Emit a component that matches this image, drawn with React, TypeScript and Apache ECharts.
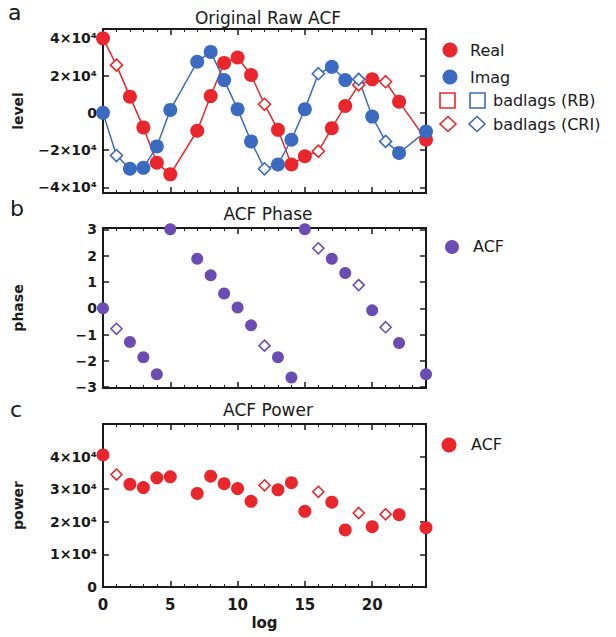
import React, { useEffect, useRef } from "react";
import * as echarts from "echarts";

const lags = [0, 1, 2, 3, 4, 5, 6, 7, 8, 9, 10, 11, 12, 13, 14, 15, 16, 17, 18, 19, 20, 21, 22, 23, 24];
const realLevel = [40000, 25600, 8700, -7800, -26800, -33000, null, -9600, 9000, 26800, 29700, 20300, 4600, -9100, -27700, -23300, -20600, -8200, 3700, 15000, 18000, 16700, 6000, null, -14400];
const imagLevel = [0, -22900, -30000, -29500, -18000, 1600, null, 27400, 32700, 17600, 2000, -15300, -30000, -27700, -14400, 2000, 21000, 24700, 17600, 18000, -2000, -15300, -21500, null, -10000];
const phaseVals = [0, -0.78, -1.28, -1.86, -2.51, 3.0, null, 1.88, 1.25, 0.56, 0.03, -0.65, -1.42, -1.86, -2.63, 3.0, 2.28, 1.88, 1.34, 0.88, -0.08, -0.72, -1.32, null, -2.51];
const powerVals = [40500, 34500, 31500, 30500, 33500, 33800, null, 28700, 34000, 31700, 30200, 26300, 31200, 29800, 32000, 23200, 29200, 26000, 17500, 22700, 18500, 22300, 22200, null, 18200];
const badCriLags = [1, 12, 16, 19, 21];
const levelTicks = [-40000, -20000, 0, 20000, 40000];
const phaseTicks = [-3, -2, -1, 0, 1, 2, 3];

const RED = "#e8262b";
const BLUE = "#3a6bc1";
const PURPLE = "#6a4cb2";
const INK = "#1a1a1a";
const FONT = "DejaVu Sans";

function buildData(vals: (number | null)[], color: string, diamondSize: number) {
  const out: any[] = [];
  lags.forEach((lag, i) => {
    const v = vals[i];
    if (v === null || v === undefined) return;
    if (badCriLags.includes(lag)) {
      out.push({
        value: [lag, v],
        symbol: "diamond",
        symbolSize: diamondSize,
        itemStyle: { color: "#ffffff", borderColor: color, borderWidth: 1.6, opacity: 1 },
      });
    } else {
      out.push({ value: [lag, v] });
    }
  });
  return out;
}

const sci = (v: number) => {
  if (v === 0) return "0";
  const s = v < 0 ? "\u2212" : "";
  return s + Math.abs(v) / 10000 + "\u00d710\u2074";
};

function xAxis(gridIndex: number, position: string, showLabels: boolean, name?: string) {
  return {
    type: "value",
    gridIndex,
    position,
    min: 0,
    max: 24,
    interval: 5,
    name: name || "",
    nameLocation: "middle",
    nameGap: 28,
    nameTextStyle: { fontFamily: FONT, fontSize: 15, color: INK, fontWeight: "bold" },
    axisLine: { show: true, onZero: false, lineStyle: { color: INK, width: 2 } },
    axisTick: { show: true, inside: true, length: 6, lineStyle: { color: INK, width: 1.5 } },
    minorTick: { show: true, splitNumber: 5, length: 3, lineStyle: { color: INK, width: 1 } },
    splitLine: { show: false },
    minorSplitLine: { show: false },
    axisLabel: {
      show: showLabels,
      showMaxLabel: false,
      margin: 10,
      fontFamily: FONT,
      fontSize: 15,
      fontWeight: "bold",
      color: INK,
    },
  };
}

function yAxis(
  gridIndex: number,
  position: string,
  showLabels: boolean,
  min: number,
  max: number,
  ticks: number[],
  formatter: (v: number) => string,
  name?: string
) {
  return {
    type: "value",
    gridIndex,
    position,
    min,
    max,
    name: name || "",
    nameLocation: "middle",
    nameRotate: 90,
    nameGap: 78,
    nameTextStyle: { fontFamily: FONT, fontSize: 14, color: INK, fontWeight: "bold" },
    axisLine: { show: true, onZero: false, lineStyle: { color: INK, width: 2 } },
    axisTick: { show: true, inside: true, length: 6, customValues: ticks, lineStyle: { color: INK, width: 1.5 } },
    splitLine: { show: false },
    axisLabel: {
      show: showLabels,
      customValues: ticks,
      formatter,
      margin: 6,
      fontFamily: FONT,
      fontSize: 14,
      fontWeight: "bold",
      color: INK,
    },
  };
}

function legendText(x: number, y: number, text: string) {
  return {
    type: "text",
    x,
    y,
    style: { text, fontFamily: FONT, fontSize: 16, fill: INK, verticalAlign: "middle", align: "left" },
  };
}

function diamond(cx: number, cy: number, color: string) {
  return {
    type: "polygon",
    shape: { points: [[cx, cy - 7.5], [cx + 8, cy], [cx, cy + 7.5], [cx - 8, cy]] },
    style: { fill: "none", stroke: color, lineWidth: 1.6 },
  };
}

export default function App() {
  const ref = useRef<HTMLDivElement>(null);
  useEffect(() => {
    if (!ref.current) return;
    const chart = echarts.init(ref.current, null, { renderer: "svg" });
    const titleStyle = { fontFamily: FONT, fontSize: 17, color: INK, fontWeight: "normal" };
    const option: any = {
      animation: false,
      backgroundColor: "#ffffff",
      title: [
        { text: "Original Raw ACF", left: 263, top: 4, textAlign: "center", textStyle: titleStyle },
        { text: "ACF Phase", left: 263, top: 200, textAlign: "center", textStyle: titleStyle },
        { text: "ACF Power", left: 263, top: 396, textAlign: "center", textStyle: titleStyle },
      ],
      grid: [
        { left: 103, top: 29, width: 323, height: 164 },
        { left: 103, top: 228, width: 323, height: 160 },
        { left: 103, top: 424, width: 323, height: 163 },
      ],
      xAxis: [
        xAxis(0, "bottom", false),
        xAxis(0, "top", false),
        xAxis(1, "bottom", false),
        xAxis(1, "top", false),
        xAxis(2, "bottom", true, "log"),
        xAxis(2, "top", false),
      ],
      yAxis: [
        yAxis(0, "left", true, -43000, 45000, levelTicks, sci, "level"),
        yAxis(0, "right", false, -43000, 45000, levelTicks, sci),
        yAxis(1, "left", true, -3.03, 3.05, phaseTicks, (v: number) => (v < 0 ? "\u2212" + Math.abs(v) : String(v)), "phase"),
        yAxis(1, "right", false, -3.03, 3.05, phaseTicks, (v: number) => String(v)),
        {
          ...yAxis(2, "left", true, 0, 50000, [], sci, "power"),
          interval: 10000,
          axisTick: { show: true, inside: true, length: 6, lineStyle: { color: INK, width: 1.5 } },
          axisLabel: { show: true, showMaxLabel: false, formatter: sci, margin: 6, fontFamily: FONT, fontSize: 14, fontWeight: "bold", color: INK },
        },
        {
          ...yAxis(2, "right", false, 0, 50000, [], sci),
          interval: 10000,
          axisTick: { show: true, inside: true, length: 6, lineStyle: { color: INK, width: 1.5 } },
          axisLabel: { show: false },
        },
      ],
      series: [
        {
          name: "Real",
          type: "line",
          xAxisIndex: 0,
          yAxisIndex: 0,
          symbol: "circle",
          symbolSize: 14,
          itemStyle: { color: RED, opacity: 1 },
          lineStyle: { color: RED, width: 1.5 },
          data: buildData(realLevel, RED, 12),
        },
        {
          name: "Imag",
          type: "line",
          xAxisIndex: 0,
          yAxisIndex: 0,
          symbol: "circle",
          symbolSize: 14,
          itemStyle: { color: BLUE, opacity: 1 },
          lineStyle: { color: BLUE, width: 1.5 },
          data: buildData(imagLevel, BLUE, 12),
        },
        {
          name: "Phase",
          type: "scatter",
          xAxisIndex: 2,
          yAxisIndex: 2,
          symbol: "circle",
          symbolSize: 12,
          itemStyle: { color: PURPLE, opacity: 1 },
          data: buildData(phaseVals, PURPLE, 11),
        },
        {
          name: "Power",
          type: "scatter",
          xAxisIndex: 4,
          yAxisIndex: 4,
          symbol: "circle",
          symbolSize: 13,
          itemStyle: { color: RED, opacity: 1 },
          data: buildData(powerVals, RED, 11),
        },
      ],
      graphic: [
        { type: "text", x: 8, y: 1, style: { text: "a", fontFamily: FONT, fontSize: 22, fill: INK } },
        { type: "text", x: 10, y: 197, style: { text: "b", fontFamily: FONT, fontSize: 22, fill: INK } },
        { type: "text", x: 10, y: 398, style: { text: "c", fontFamily: FONT, fontSize: 22, fill: INK } },
        { type: "circle", shape: { cx: 450, cy: 50, r: 7.5 }, style: { fill: RED } },
        legendText(470, 50, "Real"),
        { type: "circle", shape: { cx: 450, cy: 77, r: 7.5 }, style: { fill: BLUE } },
        legendText(470, 77, "Imag"),
        { type: "rect", shape: { x: 440, y: 93, width: 15, height: 15 }, style: { fill: "none", stroke: RED, lineWidth: 1.6 } },
        { type: "rect", shape: { x: 470, y: 93, width: 15, height: 15 }, style: { fill: "none", stroke: BLUE, lineWidth: 1.6 } },
        legendText(493, 100, "badlags (RB)"),
        diamond(448, 124, RED),
        diamond(477, 124, BLUE),
        legendText(493, 124, "badlags (CRI)"),
        { type: "circle", shape: { cx: 452, cy: 247, r: 7 }, style: { fill: PURPLE } },
        legendText(473, 246, "ACF"),
        { type: "circle", shape: { cx: 449, cy: 445, r: 7.5 }, style: { fill: RED } },
        legendText(471, 444, "ACF"),
      ],
    };
    chart.setOption(option);
    return () => chart.dispose();
  }, []);
  return (
    <div
      ref={ref}
      style={{ position: "fixed", left: 0, top: 0, width: 616, height: 637, background: "#fff" }}
    />
  );
}
